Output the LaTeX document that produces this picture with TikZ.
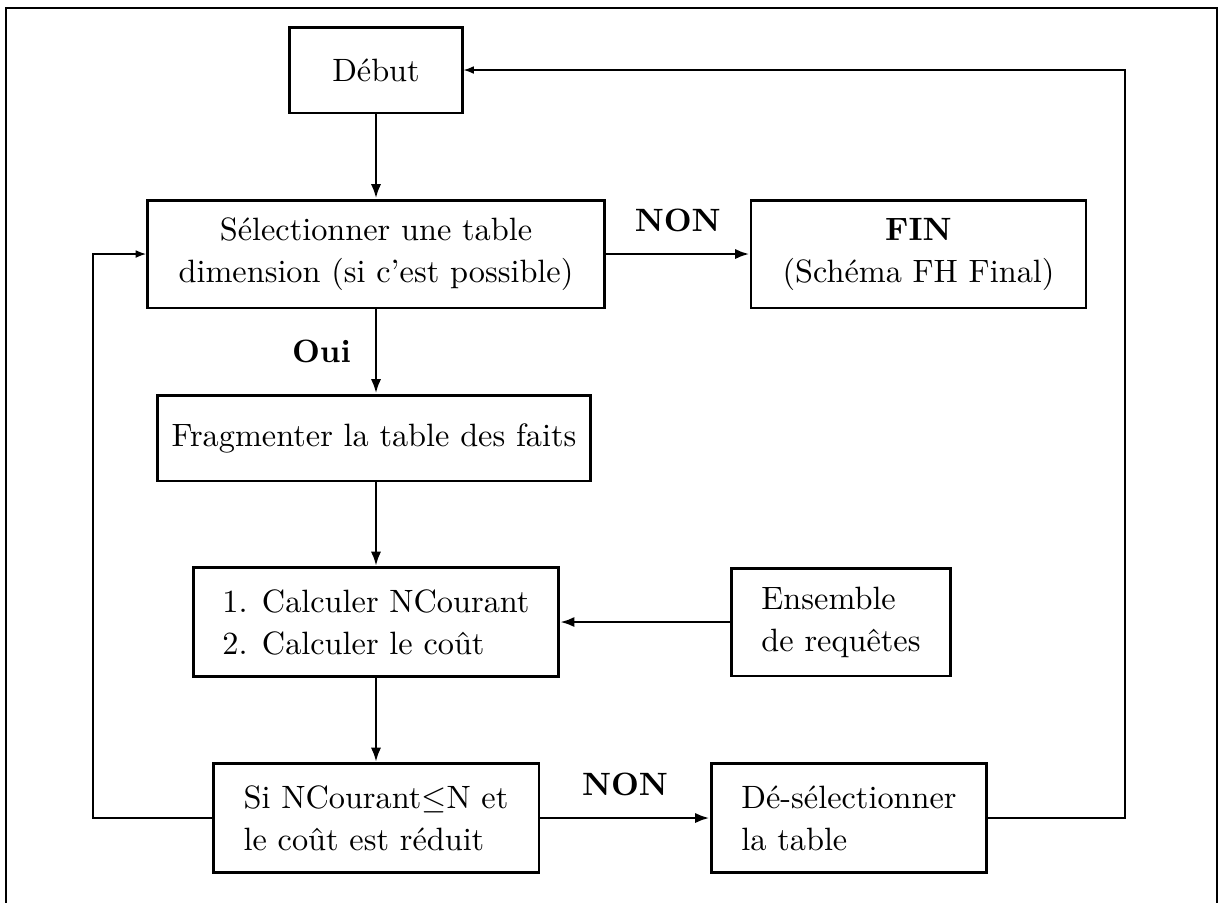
\documentclass[tikz,border=0pt]{standalone}
\usepackage{fontspec}
\usetikzlibrary{arrows.meta}
\begin{document}
\begin{tikzpicture}[x=0.3096pt, y=-0.3096pt,
  every node/.style={font=\fontsize{10}{13}\selectfont},
  stepbox/.style={draw, line width=0.9pt, inner sep=0pt, align=center},
  leftbox/.style={stepbox, align=left},
  mainarrow/.style={line width=0.9pt, -{Latex[length=4.5pt, width=3.2pt]}},
  looparrow/.style={line width=0.4pt, -{Latex[length=3.2pt, width=2.4pt]}},
  lbl/.style={font=\fontsize{10}{13}\selectfont\bfseries}]
  \useasboundingbox (0,0) rectangle (1219,902);
  % outer frame (bottom edge lies below the page)
  \draw[line width=0.4pt] (6,930) -- (6,8) -- (1217,8) -- (1217,930);

  % steps
  \node[stepbox, minimum width=53.3pt, minimum height=26.6pt] (debut) at (376,70) {Début};
  \node[stepbox, minimum width=141.5pt, minimum height=33.4pt] (select) at (376,254)
    {Sélectionner une table\\dimension (si c'est possible)};
  \node[stepbox, minimum width=103.7pt, minimum height=33.4pt] (fin) at (918.5,254)
    {\textbf{FIN}\\(Schéma FH Final)};
  \node[stepbox, minimum width=134.1pt, minimum height=26.6pt] (frag) at (374,438)
    {Fragmenter la table des faits};
  \node[leftbox, minimum width=113pt, minimum height=33.7pt] (calc) at (376,622)
    {1. Calculer NCourant\\2. Calculer le coût};
  \node[leftbox, minimum width=67.8pt, minimum height=33.4pt] (ens) at (841,622)
    {Ensemble\\de requêtes};
  \node[leftbox, minimum width=100.9pt, minimum height=33.7pt] (si) at (376,818)
    {Si NCourant$\leq$N et\\le coût est réduit};
  \node[leftbox, minimum width=85.4pt, minimum height=33.7pt] (desel) at (849,818)
    {Dé-sélectionner\\la table};

  % main flow, vertical arrows kept on one axis
  \draw[mainarrow] (debut) -- (select);
  \draw[mainarrow] (select.south) -- node[lbl, left=4pt] {Oui} (select.south |- frag.north);
  \draw[mainarrow] (select) -- node[lbl, above=3pt] {NON} (fin);
  \draw[mainarrow] (calc.north |- frag.south) -- (calc.north);
  \draw[mainarrow] (ens) -- (calc);
  \draw[mainarrow] (calc) -- (si);
  \draw[mainarrow] (si) -- node[lbl, above=3pt] {NON} (desel);

  % feedback loops
  \draw[looparrow] (si.west) -- (93,818) |- (select.west);
  \draw[looparrow] (desel.east) -- (1125,818) |- (debut.east);
\end{tikzpicture}
\end{document}
